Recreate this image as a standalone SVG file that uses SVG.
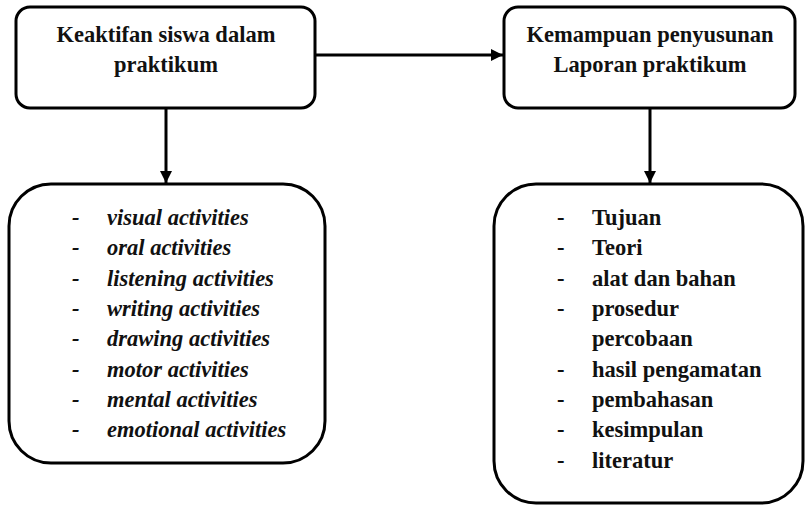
<svg xmlns="http://www.w3.org/2000/svg" width="805" height="508" viewBox="0 0 805 508">
<style>
  .box { fill: #ffffff; stroke: #000000; stroke-width: 3; }
  .conn { stroke: #000000; stroke-width: 3; fill: none; }
  text { font-family: 'Liberation Serif', 'Times New Roman', Times, serif; font-weight: 700; font-size: 22.5px; fill: #111111; }
  .title { text-anchor: middle; }
  .it { font-style: italic; }
</style>
<defs>
  <marker id="arr" viewBox="0 0 10 10" refX="10" refY="5" markerWidth="4" markerHeight="4" markerUnits="strokeWidth" orient="auto">
    <path d="M0,0 L10,5 L0,10 z" fill="#000000"/>
  </marker>
</defs>
<rect width="805" height="508" fill="#ffffff"/>
<g id="node-keaktifan">
  <rect class="box" x="16" y="7" width="299" height="101" rx="14" ry="14"/>
  <text class="title" x="166" y="42">Keaktifan siswa dalam</text>
  <text class="title" x="166" y="72">praktikum</text>
</g>
<g id="node-kemampuan">
  <rect class="box" x="504" y="7" width="291" height="101" rx="14" ry="14"/>
  <text class="title" x="650" y="42">Kemampuan penyusunan</text>
  <text class="title" x="650" y="72">Laporan praktikum</text>
</g>
<g id="node-activities">
  <rect class="box" x="9" y="184" width="316" height="279" rx="42" ry="42"/>
  <g class="it">
    <text class="it" x="72" y="225">-</text><text class="it" x="107" y="225">visual activities</text>
    <text class="it" x="72" y="255">-</text><text class="it" x="107" y="255">oral activities</text>
    <text class="it" x="72" y="286">-</text><text class="it" x="107" y="286">listening activities</text>
    <text class="it" x="72" y="316">-</text><text class="it" x="107" y="316">writing activities</text>
    <text class="it" x="72" y="346">-</text><text class="it" x="107" y="346">drawing activities</text>
    <text class="it" x="72" y="377">-</text><text class="it" x="107" y="377">motor activities</text>
    <text class="it" x="72" y="407">-</text><text class="it" x="107" y="407">mental activities</text>
    <text class="it" x="72" y="437">-</text><text class="it" x="107" y="437">emotional activities</text>
  </g>
</g>
<g id="node-laporan">
  <rect class="box" x="494" y="184" width="309" height="319" rx="42" ry="42"/>
  <g>
    <text x="557" y="225">-</text><text x="592" y="225">Tujuan</text>
    <text x="557" y="255">-</text><text x="592" y="255">Teori</text>
    <text x="557" y="286">-</text><text x="592" y="286">alat dan bahan</text>
    <text x="557" y="316">-</text><text x="592" y="316">prosedur</text>
    <text x="592" y="346">percobaan</text>
    <text x="557" y="377">-</text><text x="592" y="377">hasil pengamatan</text>
    <text x="557" y="407">-</text><text x="592" y="407">pembahasan</text>
    <text x="557" y="437">-</text><text x="592" y="437">kesimpulan</text>
    <text x="557" y="468">-</text><text x="592" y="468">literatur</text>
  </g>
</g>
<g id="connectors">
  <line class="conn" x1="315" y1="55" x2="503" y2="55" marker-end="url(#arr)"/>
  <line class="conn" x1="166" y1="108" x2="166" y2="183" marker-end="url(#arr)"/>
  <line class="conn" x1="650" y1="108" x2="650" y2="183" marker-end="url(#arr)"/>
</g>
</svg>
